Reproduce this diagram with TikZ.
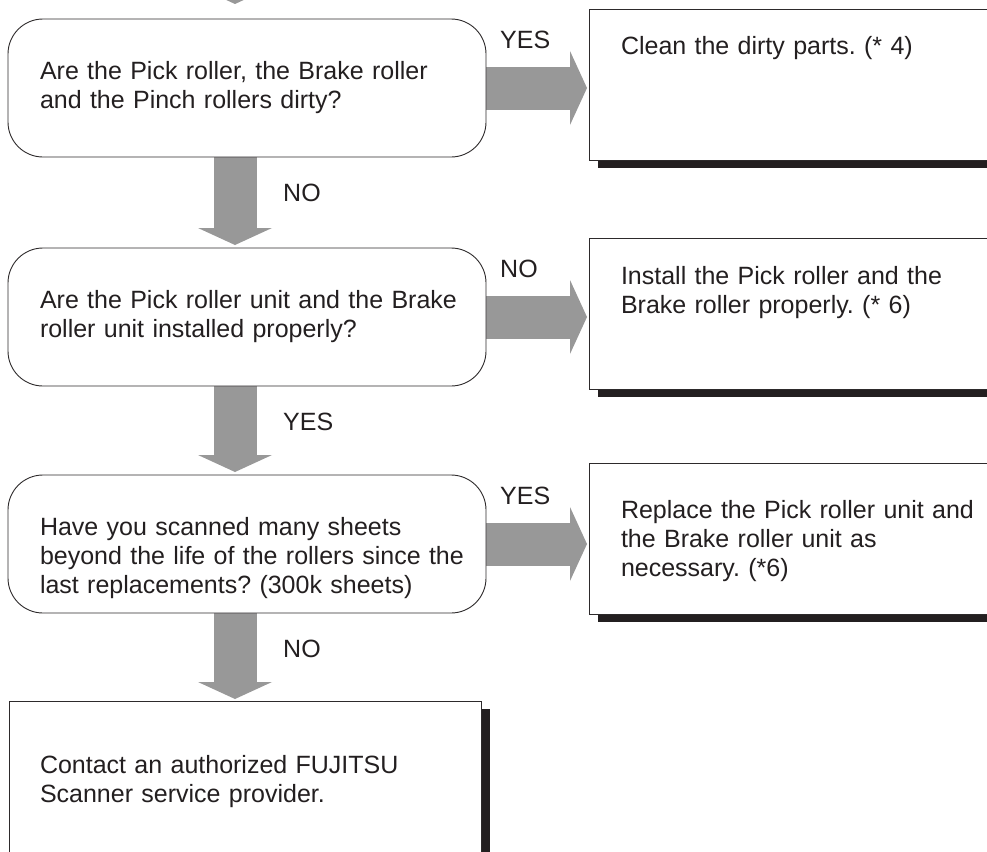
\documentclass[tikz,border=0pt]{standalone}
\usepackage{fontspec}
\setmainfont{Liberation Sans}
\usepackage{tikz}
\usetikzlibrary{shadows}
\usetikzlibrary{backgrounds}
\usetikzlibrary{arrows.meta}
\frenchspacing

\definecolor{arrowgray}{RGB}{152,152,152}
\definecolor{edgegray}{RGB}{45,42,43}
\definecolor{shadowblack}{RGB}{35,31,32}

\tikzset{
  txt/.style={font=\fontsize{25pt}{29pt}\selectfont, text=shadowblack},
  qbox/.style={txt, draw=edgegray, line width=0.9pt, fill=white, rounded corners=35pt,
    anchor=north west, inner xsep=32pt, inner ysep=0pt, outer sep=0pt, align=left,
    text width=414pt, text height=60pt, text depth=78pt},
  abox/.style={txt, draw=edgegray, line width=0.9pt, fill=white,
    drop shadow={shadow xshift=9pt, shadow yshift=-8pt, fill=shadowblack, opacity=1},
    anchor=north west, inner xsep=32pt, inner ysep=0pt, outer sep=0pt, align=left,
    text width=380pt, text height=46pt, text depth=105pt},
  lbl/.style={txt, inner sep=0pt, anchor=west},
  bigarrow/.style={draw=arrowgray, line width=43pt,
    -{Triangle[width=74pt, length=17pt, line width=0pt]}},
}

\begin{document}
\begin{tikzpicture}[x=1pt, y=-1pt]
  \useasboundingbox (0,0) rectangle (987,851);
  \clip (0,0) rectangle (987,851);

  % questions
  \node[qbox] (q1) at (8,19) {Are the Pick roller, the Brake roller\\and the Pinch rollers dirty?};
  \node[qbox] (q2) at (8,248) {\mbox{Are the Pick roller unit and the Brake}\\roller unit installed properly?};
  \node[qbox] (q3) at (8,475) {Have you scanned many sheets\\\mbox{beyond the life of the rollers since the}\\last replacements? (300k sheets)};

  % actions
  \node[abox] (a1) at (589,9) {Clean the dirty parts. (* 4)};
  \node[abox] (a2) at (589,238) {Install the Pick roller and the\\Brake roller properly. (* 6)};
  \node[abox, text height=55pt, text depth=96pt] (a3) at (589,463) {Replace the Pick roller unit and\\the Brake roller unit as\\necessary. (*6)};
  \node[abox, text width=410pt, inner xsep=31pt, text height=72pt, text depth=107pt] (a4) at (9,701)
    {Contact an authorized FUJITSU\\Scanner service provider.};

  \coordinate (in) at (235,-40);
  \begin{scope}[on background layer]
    \draw[bigarrow] (in) -- ([xshift=-12pt, yshift=15pt]q1.north);
    \draw[bigarrow, shorten >=3pt] ([xshift=-12pt]q1.south) -- ([xshift=-12pt]q2.north);
    \draw[bigarrow, shorten >=3pt] ([xshift=-12pt]q2.south) -- ([xshift=-12pt]q3.north);
    \draw[bigarrow, shorten >=2pt] ([xshift=-12pt]q3.south) -- ([xshift=-10pt]a4.north);
    \draw[bigarrow, shorten >=2pt] (q1.east) -- (q1.east -| a1.west);
    \draw[bigarrow, shorten >=2pt] (q2.east) -- (q2.east -| a2.west);
    \draw[bigarrow, shorten >=2pt] (q3.east) -- (q3.east -| a3.west);
  \end{scope}

  % answers
  \node[lbl] (yes1) at ([xshift=14pt, yshift=48pt]q1.east) {YES};
  \node[lbl] (no1) at ([xshift=36pt, yshift=-36pt]q1.south) {NO};
  \node[lbl] (no2) at ([xshift=14pt, yshift=48pt]q2.east) {NO};
  \node[lbl] (yes2) at ([xshift=36pt, yshift=-36pt]q2.south) {YES};
  \node[lbl] (yes3) at ([xshift=14pt, yshift=48pt]q3.east) {YES};
  \node[lbl] (no3) at ([xshift=36pt, yshift=-36pt]q3.south) {NO};
\end{tikzpicture}
\end{document}
